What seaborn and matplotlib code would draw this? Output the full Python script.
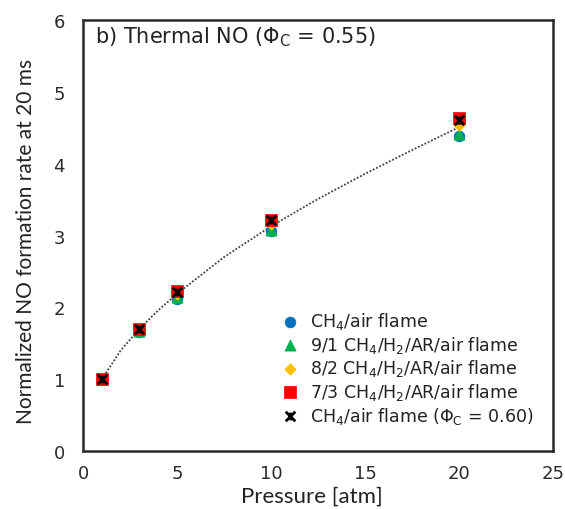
import matplotlib
matplotlib.use("Agg")
import matplotlib.pyplot as plt
import seaborn as sns
import numpy as np
import pandas as pd
from matplotlib.path import Path

# values
pressure = [1, 3, 5, 10, 20]
ch4_air = [1.00, 1.66, 2.12, 3.06, 4.38]
h2_91 = [1.00, 1.67, 2.14, 3.08, 4.41]
h2_82 = [1.00, 1.69, 2.18, 3.16, 4.54]
h2_73 = [1.00, 1.70, 2.23, 3.22, 4.63]
ch4_air_060 = [1.00, 1.70, 2.22, 3.21, 4.61]

# dotted trend line, read at several pressures
trend_p = [1, 2, 3, 4, 5, 7.5, 10, 12.5, 15, 17.5, 20]
trend_v = [1.00, 1.40, 1.70, 1.96, 2.19, 2.70, 3.13, 3.51, 3.86, 4.19, 4.51]

sns.set_style("white")
plt.rcParams["font.family"] = ["DejaVu Sans"]
plt.rcParams["mathtext.fontset"] = "dejavusans"

fig = plt.figure(figsize=(5.65, 5.1), dpi=100)
ax = fig.add_axes([0.147, 0.1137, 0.832, 0.845])

sns.lineplot(x=trend_p, y=trend_v, ax=ax, color="#404040", linestyle=(0, (1, 1)),
             linewidth=1.3, zorder=1)

# asterisk-like marker (x with a vertical bar), like the Excel star
star = Path([(-1, -1), (1, 1), (-1, 1), (1, -1), (0, -0.8), (0, 0.8)],
            [Path.MOVETO, Path.LINETO, Path.MOVETO, Path.LINETO, Path.MOVETO, Path.LINETO])

series = [
    (ch4_air, "o", "#0070C0", 60, "CH$_\\mathregular{4}$/air flame"),
    (h2_91, "^", "#00B050", 65, "9/1 CH$_\\mathregular{4}$/H$_\\mathregular{2}$/AR/air flame"),
    (h2_82, "D", "#FFC000", 34, "8/2 CH$_\\mathregular{4}$/H$_\\mathregular{2}$/AR/air flame"),
    (h2_73, "s", "#FF0000", 70, "7/3 CH$_\\mathregular{4}$/H$_\\mathregular{2}$/AR/air flame"),
]
for vals, m, c, s, lab in series:
    sns.scatterplot(x=pressure, y=vals, ax=ax, marker=m, color=c, s=s,
                    edgecolor=c, linewidth=0.5, label=lab, zorder=3)
sns.scatterplot(x=pressure, y=ch4_air_060, ax=ax, marker=star, color="black", s=48,
                edgecolor="black", linewidth=2.0, label="CH$_\\mathregular{4}$/air flame (Φ$_\\mathregular{C}$ = 0.60)",
                zorder=4)

ax.set_xlim(0, 25)
ax.set_ylim(0, 6)
ax.set_xticks(range(0, 26, 5))
ax.set_yticks(range(0, 7))
for sp in ax.spines.values():
    sp.set_color("#2a2a2a")
    sp.set_linewidth(1.8)
ax.tick_params(direction="in", length=4, width=1.4, labelsize=13, colors="#2a2a2a",
               top=False, right=False)
ax.tick_params(axis="y", pad=13)
ax.tick_params(axis="x", pad=9)

ax.set_xlabel("Pressure [atm]", fontsize=16, family="Lato", color="#222222")
ax.set_ylabel("Normalized NO formation rate at 20 ms", fontsize=15, family="Lato",
              color="#222222")
ax.xaxis.set_label_coords(0.486, -0.081)
ax.yaxis.set_label_coords(-0.10, 0.488)

ax.text(0.0255, 0.948, "b) Thermal NO (Φ$_\\mathregular{C}$ = 0.55)", transform=ax.transAxes,
        fontsize=15, va="baseline", ha="left", color="#222222")

ax.legend(loc="upper left", bbox_to_anchor=(0.421, 0.327), frameon=False, fontsize=12.5,
          handlelength=1.0, handletextpad=0.67, borderpad=0, borderaxespad=0,
          labelspacing=0.15, labelcolor="#222222")

fig.savefig("out.png", dpi=100)
